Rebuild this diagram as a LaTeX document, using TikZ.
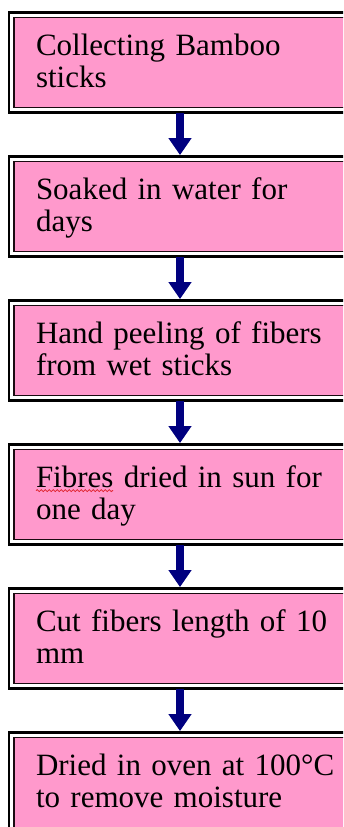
\documentclass[tikz,border=0pt]{standalone}
\usepackage{fontspec}
\setmainfont{Liberation Serif}
\usepackage{tikz}
\usepackage{xcolor}
\usetikzlibrary{positioning, arrows.meta, calc, decorations.pathmorphing}
\definecolor{boxpink}{HTML}{FF99CC}
\definecolor{flownavy}{HTML}{00007F}
\definecolor{frameline}{HTML}{1A0A10}
\definecolor{spellred}{HTML}{E0202A}

\begin{document}
\begin{tikzpicture}[
    x=1pt, y=1pt,
    node distance=52.2pt,
    stepbox/.style={rectangle, draw=frameline, fill=boxpink, line width=1.2pt,
                  minimum width=366pt, minimum height=90.6pt,
                  text width=322pt, inner xsep=22pt, inner ysep=0pt,
                  text height=22pt, text depth=37pt, align=left,
                  font=\fontsize{31}{32}\selectfont},
    frame/.style={draw=black, line width=2.5pt},
    flow/.style={-{Triangle[width=22pt,length=17pt]}, line width=8pt, flownavy,
                 shorten <=5pt, shorten >=5.5pt}
  ]
    \useasboundingbox (0,0) rectangle (343,-827);
    \clip (0,0) rectangle (343,-827);

    \node[stepbox, anchor=north west] (collect) at (13.4,-16.6) {Collecting Bamboo\\sticks};
    \node[stepbox, below=of collect] (soak) {Soaked in water for\\days};
    \node[stepbox, below=of soak] (peel) {Hand peeling of fibers\\from wet sticks};
    \node[stepbox, below=of peel] (dry) {Fibres dried in sun for\\one day};
    \node[stepbox, below=of dry] (cut) {Cut fibers length of 10\\mm};
    \node[stepbox, below=of cut] (oven) {Dried in oven at 100°C\\to remove moisture};

    % outer frame of each box
    \foreach \n in {collect, soak, peel, dry, cut, oven}
      \draw[frame] ($(\n.north west)+(-4.2,4.2)$) rectangle ($(\n.south east)+(4.2,-4.2)$);

    % spelling mark under Fibres
    \draw[spellred, line width=0.8pt, decorate,
          decoration={snake, segment length=4pt, amplitude=1pt}]
      ([xshift=22.6pt, yshift=-42pt]dry.north west) -- ++(77,0);

    \draw[flow] ([xshift=166.6pt]collect.south west) -- ([xshift=166.6pt]soak.north west);
    \draw[flow] ([xshift=166.6pt]soak.south west) -- ([xshift=166.6pt]peel.north west);
    \draw[flow] ([xshift=166.6pt]peel.south west) -- ([xshift=166.6pt]dry.north west);
    \draw[flow] ([xshift=166.6pt]dry.south west) -- ([xshift=166.6pt]cut.north west);
    \draw[flow] ([xshift=166.6pt]cut.south west) -- ([xshift=166.6pt]oven.north west);
  \end{tikzpicture}
\end{document}
